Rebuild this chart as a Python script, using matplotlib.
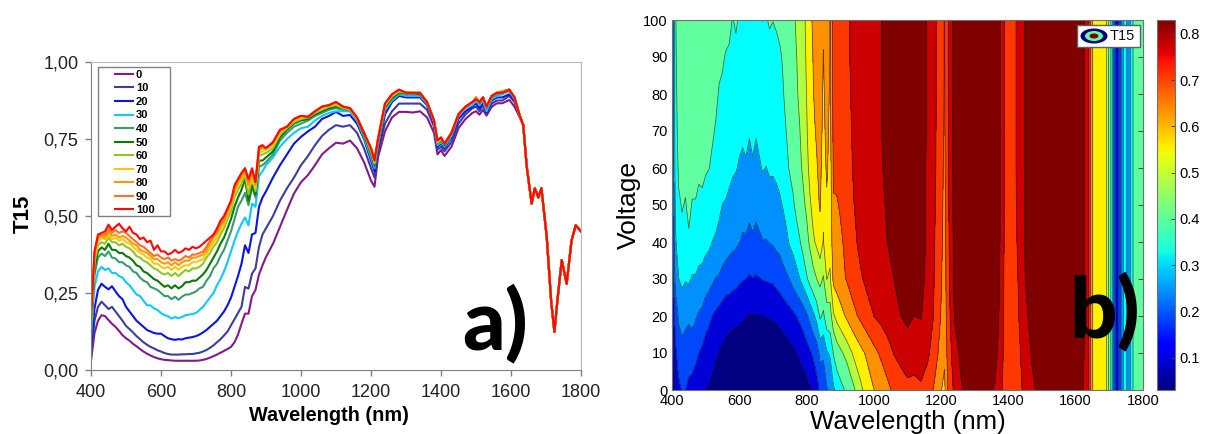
import numpy as np
import matplotlib
matplotlib.use("Agg")
import matplotlib.pyplot as plt
from matplotlib.patches import Ellipse, Rectangle
from matplotlib.cm import ScalarMappable
from matplotlib.colors import Normalize

wavelength = [400,410,420,430,440,450,460,470,480,490,
              500,510,520,530,540,550,560,570,580,590,
              600,610,620,630,640,650,660,670,680,690,
              700,710,720,730,740,750,760,770,780,790,
              800,810,820,830,840,850,860,870,880,890,
              900,920,940,960,980,1000,1020,1040,1060,1080,1100,1120,1140,1160,1180,1200,
              1210,1220,1240,1260,1280,1300,1320,1340,1360,1380,
              1390,1400,1410,1430,1450,1470,1490,
              1500,1510,1520,1530,1545,1560,1575,1595,1610,1625]

T0 = [.03,.12,.16,.178,.175,.162,.15,.14,.127,.113,
      .103,.095,.085,.077,.068,.06,.053,.047,.042,.038,
      .035,.033,.032,.031,.03,.03,.03,.03,.03,.03,
      .03,.031,.033,.036,.04,.045,.05,.056,.062,.068,
      .075,.09,.115,.15,.183,.183,.24,.26,.31,.34,
      .367,.41,.465,.52,.573,.61,.633,.665,.70,.72,.738,.735,.745,.72,.675,.615,
      .595,.69,.775,.82,.838,.838,.836,.84,.82,.77,
      .70,.714,.695,.725,.785,.815,.835,
      .84,.829,.845,.826,.855,.866,.866,.877,.855,.82]
T10 = [.04,.16,.205,.222,.21,.198,.205,.19,.175,.16,
       .143,.133,.122,.11,.1,.09,.082,.075,.07,.064,
       .06,.055,.052,.05,.05,.05,.051,.051,.052,.052,
       .054,.056,.06,.065,.072,.08,.09,.1,.112,.125,
       .145,.165,.185,.205,.27,.264,.313,.33,.40,.44,
       .46,.50,.55,.59,.625,.665,.695,.73,.76,.78,.795,.79,.795,.77,.72,.655,
       .625,.71,.80,.84,.865,.865,.865,.865,.845,.79,
       .715,.725,.71,.74,.80,.83,.85,
       .855,.84,.86,.832,.865,.875,.875,.89,.87,.825]
T20 = [.08,.20,.26,.28,.27,.262,.272,.255,.24,.23,
       .205,.19,.175,.16,.15,.14,.13,.125,.12,.118,
       .118,.11,.103,.1,.098,.1,.099,.103,.105,.107,
       .11,.115,.122,.13,.14,.15,.16,.175,.19,.21,
       .235,.27,.305,.345,.405,.38,.44,.445,.53,.56,
       .58,.625,.665,.70,.735,.757,.775,.79,.815,.825,.838,.825,.828,.80,.75,.68,
       .645,.72,.83,.87,.89,.885,.885,.885,.86,.80,
       .725,.735,.72,.755,.815,.84,.855,
       .865,.85,.87,.835,.875,.885,.885,.895,.875,.825]
T30 = [.11,.27,.32,.335,.325,.33,.315,.315,.305,.30,
       .285,.275,.26,.245,.24,.225,.21,.21,.2,.195,
       .185,.178,.175,.167,.172,.168,.172,.178,.18,.182,
       .185,.195,.205,.22,.235,.25,.275,.295,.32,.35,
       .385,.42,.45,.475,.495,.47,.54,.53,.63,.645,
       .665,.69,.725,.75,.77,.785,.79,.81,.825,.835,.84,.84,.84,.81,.755,.69,
       .655,.73,.845,.875,.895,.89,.89,.89,.865,.805,
       .73,.74,.725,.76,.825,.85,.86,
       .875,.86,.875,.84,.88,.89,.895,.905,.88,.825]
T40 = [.13,.31,.365,.378,.37,.385,.365,.362,.35,.35,
       .34,.335,.32,.315,.3,.29,.285,.27,.265,.26,
       .25,.24,.24,.23,.238,.228,.238,.245,.245,.25,
       .255,.265,.27,.29,.305,.33,.345,.37,.39,.42,
       .45,.49,.53,.55,.575,.535,.595,.56,.66,.665,
       .675,.70,.745,.77,.79,.80,.81,.825,.835,.845,.85,.845,.845,.815,.76,.70,
       .66,.735,.85,.88,.90,.895,.895,.895,.87,.81,
       .735,.745,.73,.765,.83,.855,.87,
       .88,.865,.88,.85,.885,.895,.90,.91,.885,.825]
T50 = [.14,.33,.385,.398,.39,.41,.39,.39,.38,.38,
       .37,.365,.355,.34,.335,.32,.315,.305,.295,.29,
       .28,.27,.275,.265,.275,.265,.272,.285,.285,.29,
       .29,.30,.31,.325,.345,.365,.385,.41,.43,.46,
       .49,.53,.56,.585,.62,.55,.60,.57,.68,.68,
       .69,.71,.755,.78,.80,.81,.815,.83,.84,.85,.855,.85,.845,.815,.765,.705,
       .665,.74,.855,.885,.90,.90,.90,.895,.87,.81,
       .74,.75,.73,.77,.83,.855,.87,
       .885,.87,.885,.855,.89,.90,.905,.91,.885,.825]
T60 = [.15,.35,.405,.415,.41,.43,.415,.415,.405,.41,
       .40,.395,.385,.37,.365,.355,.35,.34,.33,.325,
       .315,.31,.315,.305,.315,.305,.315,.325,.32,.33,
       .33,.335,.345,.365,.38,.40,.415,.44,.46,.49,
       .515,.56,.585,.605,.635,.57,.625,.58,.695,.70,
       .705,.72,.765,.785,.805,.815,.82,.835,.845,.855,.86,.85,.845,.815,.77,.71,
       .67,.745,.86,.89,.905,.90,.90,.90,.87,.81,
       .74,.75,.735,.77,.83,.855,.87,
       .885,.87,.885,.855,.89,.90,.905,.91,.885,.825]
T70 = [.155,.36,.42,.428,.425,.44,.425,.43,.42,.425,
       .415,.41,.40,.39,.38,.375,.365,.36,.345,.345,
       .335,.33,.335,.325,.335,.325,.335,.34,.34,.35,
       .35,.355,.36,.38,.395,.415,.43,.455,.475,.505,
       .53,.575,.60,.62,.645,.59,.635,.59,.705,.71,
       .715,.73,.77,.79,.81,.82,.822,.84,.85,.86,.865,.855,.85,.82,.77,.715,
       .675,.748,.86,.89,.905,.90,.90,.90,.87,.81,
       .74,.75,.735,.77,.83,.855,.87,
       .885,.87,.885,.855,.89,.90,.905,.91,.885,.825]
T80 = [.16,.37,.43,.435,.43,.45,.435,.44,.43,.435,
       .43,.42,.41,.405,.39,.385,.38,.37,.36,.36,
       .35,.345,.35,.34,.35,.34,.35,.355,.355,.365,
       .365,.37,.375,.39,.41,.43,.445,.47,.485,.515,
       .54,.585,.61,.63,.65,.60,.645,.60,.715,.72,
       .72,.735,.775,.79,.815,.825,.822,.84,.855,.86,.87,.855,.85,.82,.77,.72,
       .678,.75,.865,.895,.91,.90,.90,.90,.87,.81,
       .745,.755,.735,.77,.83,.855,.87,
       .885,.87,.885,.855,.89,.90,.905,.91,.885,.825]
T90 = [.165,.38,.435,.44,.44,.46,.445,.455,.445,.45,
       .445,.435,.425,.415,.405,.40,.39,.38,.37,.375,
       .365,.36,.365,.355,.36,.355,.36,.37,.365,.375,
       .375,.38,.385,.40,.42,.435,.45,.475,.49,.52,
       .545,.59,.615,.635,.655,.61,.65,.61,.72,.725,
       .72,.74,.78,.79,.815,.825,.822,.84,.855,.86,.87,.855,.85,.82,.77,.72,
       .68,.75,.865,.895,.91,.90,.90,.90,.87,.81,
       .745,.755,.735,.77,.83,.855,.87,
       .88,.87,.885,.855,.89,.90,.90,.91,.885,.825]
T100 = [.17,.385,.44,.445,.45,.472,.455,.465,.475,.46,
        .45,.465,.445,.44,.425,.43,.415,.42,.39,.405,
        .385,.385,.375,.38,.39,.38,.385,.395,.39,.40,
        .395,.40,.41,.42,.43,.44,.46,.485,.50,.525,
        .55,.60,.62,.64,.655,.62,.655,.61,.725,.73,
        .72,.74,.78,.79,.815,.825,.822,.84,.855,.86,.87,.855,.85,.82,.77,.72,
        .68,.75,.865,.895,.91,.90,.90,.90,.87,.81,
        .745,.755,.735,.77,.83,.855,.87,
        .88,.87,.885,.855,.89,.90,.90,.91,.885,.825]

tail_wavelength = [1635,1645,1659,1668,1678,1687,1702,1715,1724,1733,1745,1759,1773,1785,1800]
tail_T = [.795,.66,.54,.59,.56,.59,.433,.22,.124,.23,.357,.28,.42,.47,.45]

voltages = [0,10,20,30,40,50,60,70,80,90,100]
series = [T0,T10,T20,T30,T40,T50,T60,T70,T80,T90,T100]
line_colors = ['#86188c','#3d3d9e','#0a14e6','#10c8ff','#3a9a6e','#087a08',
               '#90c820','#ffc800','#ff9a00','#ff7020','#ff0808']
y_ticks = [0,.25,.5,.75,1]
y_labels = ['0,00','0,25','0,50','0,75','1,00']
wl_ticks = [400,600,800,1000,1200,1400,1600,1800]
levels = [0,.103,.175,.248,.321,.394,.476,.539,.612,.685,.757,.825]
band_colors = ['#000080','#0000d8','#0048ff','#0090ff','#00ffff','#60ffa0',
               '#b0ff40','#fff000','#ff9000','#ff3800','#cc0000','#800000']

plt.rcParams['font.family'] = ['Liberation Sans','DejaVu Sans']
W, H = 1206, 434
fig = plt.figure(figsize=(W/100, H/100), dpi=100)
def px_axes(x0, y0, x1, y1):
    return fig.add_axes([x0/W, 1-y1/H, (x1-x0)/W, (y1-y0)/H])

x_all = np.array(list(wavelength)+tail_wavelength, float)
Z = np.array([list(s)+tail_T for s in series], float)

# panel a
ax = px_axes(91, 62, 581, 370)
for row, v, c in zip(Z, voltages, line_colors):
    ax.plot(x_all, row, color=c, lw=1.5, label=str(v), solid_joinstyle='round')
ax.set_xlim(400, 1800); ax.set_ylim(0, 1)
ax.set_xticks(wl_ticks); ax.set_yticks(y_ticks); ax.set_yticklabels(y_labels)
ax.tick_params(length=4, width=1, color='#808080', labelsize=13, labelcolor='#222222')
ax.tick_params(axis='y', pad=5)
ax.tick_params(axis='x', pad=6)
for s in ('left','bottom'): ax.spines[s].set_color('#808080')
for s in ('top','right'): ax.spines[s].set_color('#b8b8b8')
ax.set_xlabel('Wavelength (nm)', fontweight='bold', fontsize=14.3, labelpad=4, x=0.486)
ax.set_ylabel('T15', fontweight='bold', fontsize=16, labelpad=7, y=0.507)
leg = ax.legend(loc='upper left', bbox_to_anchor=(21/490, 303/308), borderaxespad=0,
                frameon=False, handlelength=1.65,
                handletextpad=0.25, labelspacing=0.32, borderpad=0.25,
                prop={'weight':'bold','size':8})

# panel b
ax2 = px_axes(672, 20, 1143, 390)
ax2.contourf(x_all, voltages, Z, levels=levels, colors=band_colors, extend='max')
ax2.contour(x_all, voltages, Z, levels=levels[1:], colors='#1a1a1a', linewidths=0.5, alpha=0.75)
ax2.set_xlim(400, 1800); ax2.set_ylim(0, 100)
ax2.set_xticks(wl_ticks); ax2.set_yticks(range(0,101,10))
ax2.tick_params(direction='in', length=3.5, width=0.7, color='#444444', labelsize=10.5,
                left=False, right=True, top=False, bottom=False, pad=3)
for s in ax2.spines.values(): s.set_color('#707070')
ax2.set_xlabel('Wavelength (nm)', fontsize=18.6, labelpad=1)
ax2.set_ylabel('Voltage', fontsize=19, labelpad=2)

# colour bar
cax = px_axes(1157, 20, 1175, 390)
cb = fig.colorbar(ScalarMappable(Normalize(.03,.83), 'jet'), cax=cax)
cb.set_ticks([.1,.2,.3,.4,.5,.6,.7,.8])
cb.ax.tick_params(direction='in', length=3, width=0.7, labelsize=10.5, pad=3, color='#444444')
cb.outline.set_edgecolor('#707070')

# overlay in pixel coordinates: keys and panel letters
ov = fig.add_axes([0,0,1,1]); ov.set_xlim(0,W); ov.set_ylim(H,0); ov.axis('off'); ov.patch.set_alpha(0)
ov.add_patch(Rectangle((98,67), 72, 149, fc='none', ec='#808080', lw=1))
ov.add_patch(Rectangle((1077,25), 63, 22, fc='white', ec='#606060', lw=1))
ov.add_patch(Ellipse((1094,36), 27, 15, fc='#000080', ec='none'))
ov.add_patch(Ellipse((1094,36), 18, 10, fc='#60ffa0', ec='none'))
ov.add_patch(Ellipse((1094,36), 9, 5, fc='#800000', ec='none'))
ov.text(1110, 36, 'T15', fontsize=10.5, va='center', ha='left', color='#111111')
ov.text(495, 349, 'a)', fontsize=60, family=['Lato','DejaVu Sans'], fontweight='black', ha='center', va='baseline', color='black')
ov.text(1105, 337, 'b)', fontsize=60, family=['Lato','DejaVu Sans'], fontweight='black', ha='center', va='baseline', color='black')

fig.savefig('out.png', dpi=100)
